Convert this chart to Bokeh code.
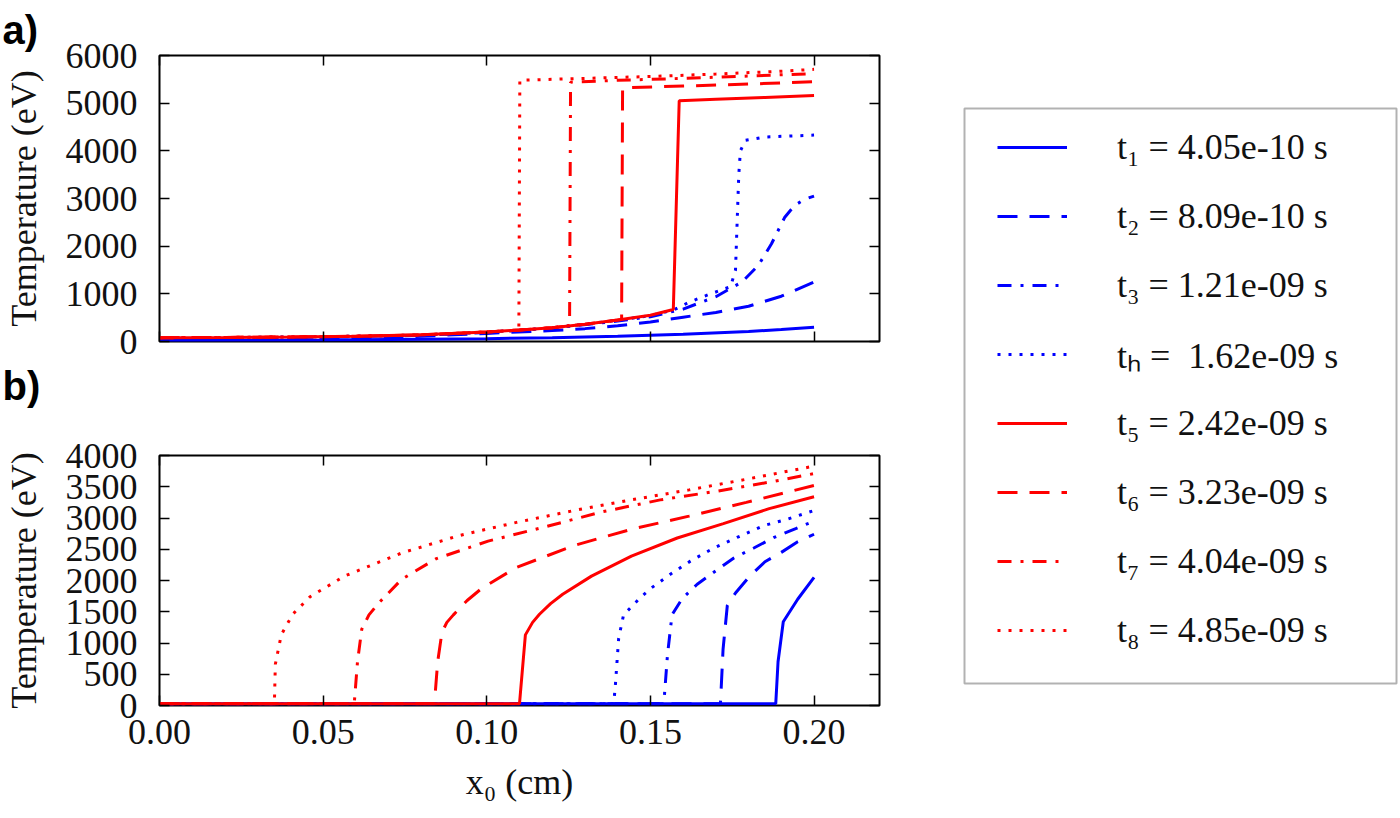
from bokeh.plotting import figure
from bokeh.layouts import row, column
from bokeh.models import (Range1d, FixedTicker, PrintfTickFormatter, LinearAxis,
                          Legend, LegendItem, BoxAnnotation, Title)
from bokeh.embed import file_html
from bokeh.resources import INLINE

# ---------------- data: panel a) ----------------
a_t1_x = [0.0, 0.05, 0.10, 0.12, 0.14, 0.16, 0.18, 0.19, 0.20]
a_t1_T = [20, 30, 60, 80, 110, 150, 210, 250, 300]

a_t2_x = [0.0, 0.05, 0.08, 0.10, 0.12, 0.13, 0.14, 0.15, 0.16, 0.17, 0.18, 0.19, 0.20]
a_t2_T = [40, 60, 110, 170, 230, 270, 330, 410, 510, 610, 740, 950, 1250]

a_t3_x = [0.0, 0.05, 0.08, 0.10, 0.12, 0.14, 0.15, 0.16, 0.17, 0.178, 0.183, 0.187, 0.191, 0.194, 0.197, 0.20]
a_t3_T = [60, 90, 130, 190, 280, 430, 520, 680, 940, 1250, 1600, 2050, 2600, 2850, 2980, 3050]

a_t4_x = [0.0, 0.05, 0.08, 0.10, 0.12, 0.14, 0.15, 0.157, 0.162, 0.168, 0.1745, 0.176, 0.1765, 0.177, 0.1775, 0.179, 0.185, 0.20]
a_t4_T = [70, 100, 135, 195, 285, 445, 545, 660, 830, 990, 1150, 1500, 2500, 3500, 4000, 4220, 4290, 4330]

a_t5_x = [0.0, 0.02, 0.04, 0.06, 0.08, 0.10, 0.11, 0.12, 0.13, 0.14, 0.15, 0.157, 0.1588, 0.17, 0.185, 0.20]
a_t5_T = [80, 85, 95, 110, 140, 200, 240, 290, 360, 450, 550, 670, 5050, 5080, 5120, 5160]

a_t6_x = [0.0, 0.02, 0.04, 0.06, 0.08, 0.10, 0.11, 0.12, 0.13, 0.1412, 0.1415, 0.16, 0.18, 0.20]
a_t6_T = [80, 85, 95, 110, 140, 200, 240, 290, 360, 460, 5320, 5360, 5400, 5450]

a_t7_x = [0.0, 0.02, 0.04, 0.06, 0.08, 0.10, 0.11, 0.12, 0.1253, 0.1256, 0.14, 0.16, 0.18, 0.20]
a_t7_T = [80, 85, 95, 110, 140, 200, 240, 290, 335, 5440, 5480, 5520, 5570, 5620]

a_t8_x = [0.0, 0.02, 0.04, 0.06, 0.08, 0.10, 0.1098, 0.1101, 0.13, 0.15, 0.17, 0.19, 0.20]
a_t8_T = [80, 85, 95, 110, 140, 200, 240, 5480, 5520, 5560, 5610, 5670, 5710]

# ---------------- data: panel b) ----------------
b_t1_x = [0.0, 0.1883, 0.1890, 0.1906, 0.195, 0.20]
b_t1_T = [30, 30, 700, 1340, 1700, 2050]

b_t2_x = [0.0, 0.1714, 0.1722, 0.1735, 0.176, 0.18, 0.185, 0.19, 0.195, 0.20]
b_t2_T = [30, 30, 900, 1600, 1800, 2050, 2300, 2450, 2620, 2740]

b_t3_x = [0.0, 0.1541, 0.1552, 0.1566, 0.1597, 0.1643, 0.1704, 0.1755, 0.1816, 0.1878, 0.1944, 0.20]
b_t3_T = [30, 30, 800, 1450, 1710, 1940, 2170, 2360, 2520, 2690, 2830, 2950]

b_t4_x = [0.0, 0.1388, 0.1393, 0.1403, 0.1418, 0.1444, 0.147, 0.150, 0.1561, 0.1622, 0.1694, 0.1765, 0.1847, 0.1918, 0.20]
b_t4_T = [30, 30, 330, 1075, 1450, 1590, 1730, 1870, 2100, 2310, 2520, 2690, 2880, 2980, 3120]

b_t5_x = [0.0, 0.110, 0.1118, 0.1140, 0.1161, 0.1195, 0.1232, 0.132, 0.1442, 0.1582, 0.1723, 0.1863, 0.20]
b_t5_T = [30, 30, 1130, 1330, 1460, 1630, 1780, 2070, 2390, 2680, 2910, 3150, 3340]

b_t6_x = [0.0, 0.0840, 0.0850, 0.0863, 0.0878, 0.0898, 0.0940, 0.0986, 0.1091, 0.1267, 0.1442, 0.1618, 0.1793, 0.20]
b_t6_T = [30, 30, 700, 1170, 1330, 1450, 1680, 1880, 2210, 2560, 2820, 3030, 3250, 3520]

b_t7_x = [0.0, 0.0595, 0.0605, 0.0618, 0.0640, 0.067, 0.074, 0.0846, 0.1004, 0.1179, 0.1354, 0.153, 0.1705, 0.1881, 0.20]
b_t7_T = [30, 30, 700, 1220, 1450, 1640, 2020, 2350, 2630, 2860, 3100, 3290, 3430, 3590, 3710]

b_t8_x = [0.0, 0.0351, 0.0354, 0.0372, 0.0407, 0.046, 0.0565, 0.074, 0.0916, 0.1091, 0.1267, 0.1442, 0.1618, 0.1793, 0.20]
b_t8_T = [30, 30, 660, 1130, 1460, 1740, 2070, 2440, 2720, 2930, 3120, 3290, 3450, 3620, 3830]

legend_labels = ["t\u2081 = 4.05e-10 s", "t\u2082 = 8.09e-10 s", "t\u2083 = 1.21e-09 s",
                 "t\u2095 =  1.62e-09 s", "t\u2085 = 2.42e-09 s", "t\u2086 = 3.23e-09 s",
                 "t\u2087 = 4.04e-09 s", "t\u2088 = 4.85e-09 s"]

x_ticks = [0.0, 0.05, 0.10, 0.15, 0.20]
a_y_ticks = [0, 1000, 2000, 3000, 4000, 5000, 6000]
b_y_ticks = [0, 500, 1000, 1500, 2000, 2500, 3000, 3500, 4000]

# ---------------- styles ----------------
BLUE = "#0000ff"
RED = "#ff0000"
styles = [
    (BLUE, "solid"), (BLUE, "20 12"), (BLUE, "14 9 3 9"), (BLUE, "3 8"),
    (RED, "solid"), (RED, "20 12"), (RED, "14 9 3 9"), (RED, "3 8"),
]
SERIF = "Liberation Serif"
TXT = "#111111"
LW = 3
W_LEFT = 891
H1 = 432
H2 = 383


def hidden_label_axis(ticks):
    return LinearAxis(ticker=FixedTicker(ticks=ticks), axis_line_color=None,
                      major_tick_in=10, major_tick_out=0, major_tick_line_width=1.5,
                      minor_tick_line_color=None, major_label_text_font_size="1px",
                      major_label_text_color=None, major_label_standoff=0)


def letter_title(letter, standoff):
    return Title(text=letter, align="left", offset=-157, standoff=standoff,
                 vertical_align="bottom", text_font="Liberation Sans",
                 text_font_style="bold", text_font_size="40px", text_color="black")


def style_axes(p, yticks, show_xlabels):
    p.xgrid.visible = False
    p.ygrid.visible = False
    p.outline_line_color = "black"
    p.outline_line_width = 2
    for ax in p.xaxis + p.yaxis:
        ax.axis_line_color = None
        ax.major_tick_in = 10
        ax.major_tick_out = 0
        ax.major_tick_line_width = 1.5
        ax.minor_tick_line_color = None
        ax.major_label_text_font = SERIF
        ax.major_label_text_font_size = "36px"
        ax.major_label_text_color = TXT
        ax.axis_label_text_font = SERIF
        ax.axis_label_text_font_style = "normal"
        ax.axis_label_text_font_size = "36px"
        ax.axis_label_text_color = TXT
    p.xaxis[0].ticker = FixedTicker(ticks=x_ticks)
    p.yaxis[0].ticker = FixedTicker(ticks=yticks)
    p.yaxis[0].major_label_standoff = 22
    p.yaxis[0].axis_label = "Temperature (eV)"
    p.yaxis[0].axis_label_standoff = 19
    if show_xlabels:
        p.xaxis[0].formatter = PrintfTickFormatter(format="%.2f")
        p.xaxis[0].major_label_standoff = 14
        p.xaxis[0].axis_label = "x\u2080 (cm)"
        p.xaxis[0].axis_label_standoff = 15
    else:
        p.xaxis[0].major_label_text_font_size = "1px"
        p.xaxis[0].major_label_text_color = None
        p.xaxis[0].major_label_standoff = 0
    p.add_layout(hidden_label_axis(yticks), "right")
    p.add_layout(hidden_label_axis(x_ticks), "above")


def make_panel(height, top, bottom, ymax, yticks, show_xlabels):
    p = figure(width=W_LEFT, height=height, title=None,
               x_range=Range1d(0, 0.22), y_range=Range1d(0, ymax),
               min_border_left=158, min_border_right=12,
               min_border_top=top, min_border_bottom=bottom,
               output_backend="svg", toolbar_location=None)
    style_axes(p, yticks, show_xlabels)
    return p


# frame a): y 55..341 ; frame b): y 455..705
p1 = make_panel(H1, 55, H1 - 341, 6000, a_y_ticks, False)
p2 = make_panel(H2, 455 - H1, H1 + H2 - 705, 4000, b_y_ticks, True)
p1.add_layout(letter_title("a)", 8), "above")
p1.add_layout(letter_title("b)", 40), "below")

a_series = [(a_t1_x, a_t1_T), (a_t2_x, a_t2_T), (a_t3_x, a_t3_T), (a_t4_x, a_t4_T),
            (a_t5_x, a_t5_T), (a_t6_x, a_t6_T), (a_t7_x, a_t7_T), (a_t8_x, a_t8_T)]
b_series = [(b_t1_x, b_t1_T), (b_t2_x, b_t2_T), (b_t3_x, b_t3_T), (b_t4_x, b_t4_T),
            (b_t5_x, b_t5_T), (b_t6_x, b_t6_T), (b_t7_x, b_t7_T), (b_t8_x, b_t8_T)]

for (xs, ts), (c, d) in zip(a_series, styles):
    p1.line(xs, ts, line_color=c, line_dash=d, line_width=LW)
for (xs, ts), (c, d) in zip(b_series, styles):
    p2.line(xs, ts, line_color=c, line_dash=d, line_width=LW)

# ---------------- legend figure ----------------
H_TOTAL = H1 + H2
p3 = figure(width=507, height=H_TOTAL, title=None, x_range=Range1d(1, 2), y_range=Range1d(1, 2),
            x_axis_type=None, y_axis_type=None, min_border=0,
            output_backend="svg", toolbar_location=None)
p3.xgrid.visible = False
p3.ygrid.visible = False
p3.outline_line_color = None

# legend sample renderers (same series, lying outside this figure's visible ranges)
items = []
for (xs, ts), (c, d), lab in zip(b_series, styles, legend_labels):
    r = p3.line(xs, ts, line_color=c, line_dash=d, line_width=LW)
    items.append(LegendItem(label=lab, renderers=[r]))

p3.add_layout(BoxAnnotation(left=73, right=505, bottom=H_TOTAL - 683, top=H_TOTAL - 108,
                            left_units="screen", right_units="screen",
                            bottom_units="screen", top_units="screen",
                            fill_color=None, fill_alpha=0, line_color="black", line_width=2))

legend = Legend(items=items, location=(106, H_TOTAL - 660), padding=0, margin=0, spacing=9,
                glyph_width=70, glyph_height=60, label_height=60, label_standoff=50,
                label_text_font=SERIF, label_text_font_size="36px", label_text_color=TXT,
                border_line_color=None, background_fill_alpha=0)
p3.add_layout(legend)

layout = row(column(p1, p2), p3)
open("out.html", "w").write(file_html(layout, INLINE))
